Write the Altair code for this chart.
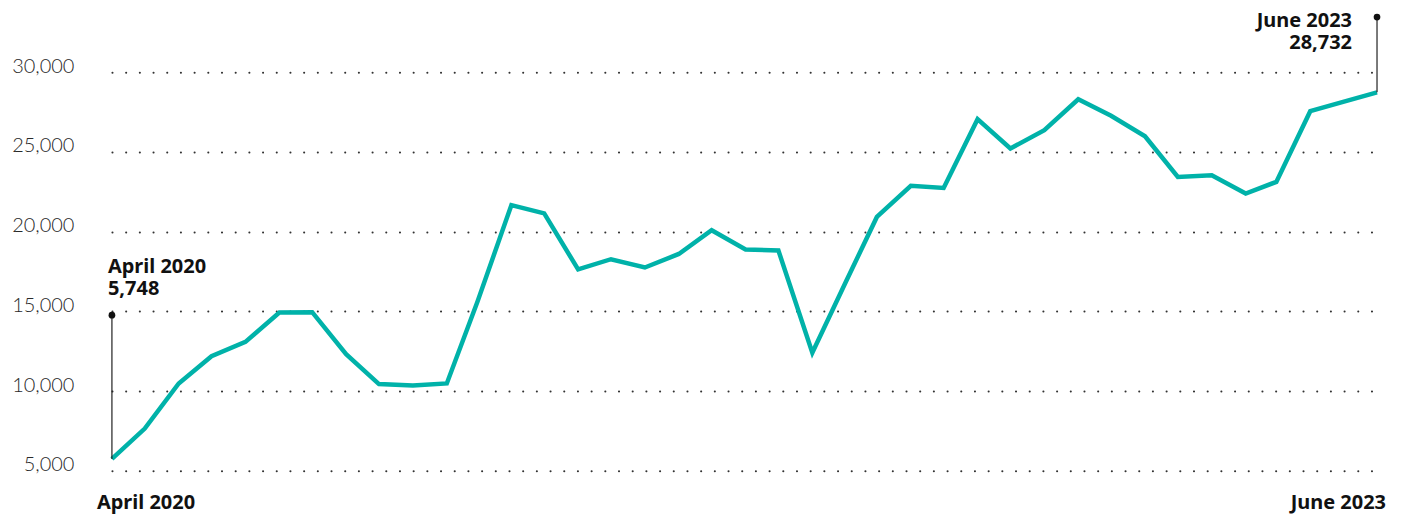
import altair as alt
import pandas as pd

# ---- data ----
months = pd.date_range("2020-04-01", periods=39, freq="MS").strftime("%Y-%m-%d").tolist()
values = [5748, 7650, 10480, 12190, 13090, 14930, 14950, 12320, 10440, 10350,
          10480, 15600, 21660, 21140, 17630, 18270, 17750, 18600, 20090, 18880,
          18820, 12400, 16900, 20920, 22870, 22740, 27050, 25210, 26360, 28300,
          27260, 25980, 23430, 23540, 22390, 23120, 27550, 28130, 28732]
y_ticks = [5000, 10000, 15000, 20000, 25000, 30000]
marker_idx = [0, 38]
marker_tops = [14760, 33450]
end_labels = ["April 2020", "June 2023"]
sides = ["left", "right"]

df = pd.DataFrame({"date": months, "value": values})
ann = pd.DataFrame({
    "date": [months[i] for i in marker_idx],
    "value": [values[i] for i in marker_idx],
    "top": marker_tops,
    "label": [f"{end_labels[k]}\n{values[i]:,}" for k, i in enumerate(marker_idx)],
    "axis_label": end_labels,
    "floor": [y_ticks[0]] * 2,
    "side": sides,
})

TEAL = "#00b2a9"
x_enc = alt.X("date:T", axis=None, scale=alt.Scale(nice=False))

line = alt.Chart(df).mark_line(color=TEAL, strokeWidth=4.5, strokeJoin="miter").encode(
    x=x_enc,
    y=alt.Y("value:Q",
            scale=alt.Scale(domain=[5000, 30000], nice=False, zero=False),
            axis=alt.Axis(values=y_ticks, format=",.0f", title=None, domain=False,
                          ticks=False, labelPadding=38, labelFont="Lato",
                          labelFontSize=20, labelFontWeight=300, labelColor="#2a2a2a",
                          labelBaseline="alphabetic",
                          gridDash=[0.1, 13.6], gridCap="round", gridWidth=2,
                          gridColor="#333")),
)

base = alt.Chart(ann)
rule = base.mark_rule(color="#222", strokeWidth=1.2).encode(
    x=x_enc, y="value:Q", y2="top:Q")
dots = base.mark_circle(size=45, color="#111", opacity=1).encode(x=x_enc, y="top:Q")

txt_style = dict(font="Noto Sans", fontWeight="bold", fontSize=20, color="#111",
                 lineBreak="\n", lineHeight=22, baseline="alphabetic")
left_txt = base.transform_filter(alt.datum.side == "left").mark_text(
    align="left", dx=-4, dy=-42, **txt_style).encode(x=x_enc, y="top:Q", text="label:N")
right_txt = base.transform_filter(alt.datum.side == "right").mark_text(
    align="right", dx=-25, dy=10, **txt_style).encode(x=x_enc, y="top:Q", text="label:N")

left_ax = base.transform_filter(alt.datum.side == "left").mark_text(
    align="left", dx=-15, dy=38, **txt_style).encode(x=x_enc, y="floor:Q", text="axis_label:N")
right_ax = base.transform_filter(alt.datum.side == "right").mark_text(
    align="right", dx=9, dy=38, **txt_style).encode(x=x_enc, y="floor:Q", text="axis_label:N")

chart = alt.layer(line, rule, dots, left_txt, right_txt, left_ax, right_ax).properties(
    width=1266, height=399,
    autosize=alt.AutoSizeParams(type="none"),
    padding={"left": 104, "top": 64, "right": 20, "bottom": 43},
).configure_view(stroke=None)

chart.save("out.html", embed_options={"renderer": "svg", "actions": False})
